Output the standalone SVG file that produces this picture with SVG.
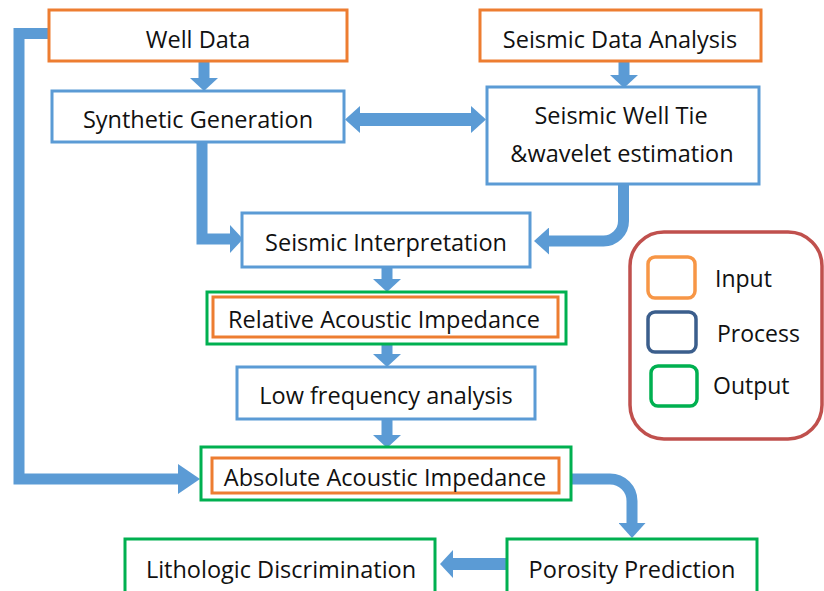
<svg xmlns="http://www.w3.org/2000/svg" width="824" height="591" viewBox="0 0 824 591">
<defs>
<style>
.box{fill:#fff;stroke-width:3}
.blue{stroke:#5B9BD5}
.orange{stroke:#ED7D31}
.green{stroke:#00B050}
.lbl{font-family:"Open Sans","Noto Sans","Liberation Sans",sans-serif;font-size:23.5px;fill:#111;text-anchor:middle}
.leg{font-family:"Open Sans","Noto Sans","Liberation Sans",sans-serif;font-size:23px;fill:#111}
.con{fill:none;stroke:#5B9BD5;stroke-width:11}
</style>
<marker id="a-sm" markerUnits="userSpaceOnUse" viewBox="0 0 13 28" markerWidth="13" markerHeight="28" refX="0" refY="14" orient="auto"><path d="M0,0 L13,14 L0,28 Z" fill="#5B9BD5"/></marker>
<marker id="a-md" markerUnits="userSpaceOnUse" viewBox="0 0 15 27" markerWidth="15" markerHeight="27" refX="0" refY="13.5" orient="auto-start-reverse"><path d="M0,0 L15,13.5 L0,27 Z" fill="#5B9BD5"/></marker>
<marker id="a-lg" markerUnits="userSpaceOnUse" viewBox="0 0 22 30" markerWidth="22" markerHeight="30" refX="0" refY="15" orient="auto"><path d="M0,0 L22,15 L0,30 Z" fill="#5B9BD5"/></marker>
</defs>

<g id="connectors">
<path class="con" d="M204,62 V78" marker-end="url(#a-sm)"/>
<path class="con" d="M624,62 V75" marker-end="url(#a-sm)"/>
<path class="con" style="stroke-width:13" d="M360,119.5 H471" marker-start="url(#a-md)" marker-end="url(#a-md)"/>
<path class="con" d="M202,142 V239 H230" marker-end="url(#a-sm)"/>
<path class="con" d="M623.5,184 V221 A20,20 0 0 1 603.5,241 H549" marker-end="url(#a-md)"/>
<path class="con" d="M387,267 V279" marker-end="url(#a-sm)"/>
<path class="con" d="M387,344 V354" marker-end="url(#a-sm)"/>
<path class="con" d="M387,419 V435" marker-end="url(#a-sm)"/>
<path class="con" d="M49,33.5 H19 V479 H178" marker-end="url(#a-lg)"/>
<path class="con" d="M571,479 H610 A22,22 0 0 1 632,501 V523" marker-end="url(#a-md)"/>
<path class="con" style="stroke-width:12" d="M507,564 H453" marker-end="url(#a-sm)"/>
</g>

<g id="well-data">
<rect class="box orange" x="49" y="10" width="298" height="51"/>
<text class="lbl" x="198" y="48">Well Data</text>
</g>
<g id="seismic-data-analysis">
<rect class="box orange" x="480" y="10" width="281" height="51"/>
<text class="lbl" x="620" y="48">Seismic Data Analysis</text>
</g>
<g id="synthetic-generation">
<rect class="box blue" x="52" y="91" width="292" height="51"/>
<text class="lbl" x="198" y="128">Synthetic Generation</text>
</g>
<g id="seismic-well-tie">
<rect class="box blue" x="487" y="87" width="272" height="97"/>
<text class="lbl" x="621" y="124">Seismic Well Tie</text>
<text class="lbl" x="622" y="162">&amp;wavelet estimation</text>
</g>
<g id="seismic-interpretation">
<rect class="box blue" x="242" y="213" width="288" height="54"/>
<text class="lbl" x="386" y="251">Seismic Interpretation</text>
</g>
<g id="relative-acoustic-impedance">
<rect class="box green" x="207" y="292" width="359" height="52"/>
<rect class="box orange" x="213" y="297" width="345" height="40"/>
<text class="lbl" x="384" y="328">Relative Acoustic Impedance</text>
</g>
<g id="low-frequency-analysis">
<rect class="box blue" x="237" y="367" width="298" height="52"/>
<text class="lbl" x="386" y="404">Low frequency analysis</text>
</g>
<g id="absolute-acoustic-impedance">
<rect class="box green" x="201" y="447" width="370" height="53"/>
<rect class="box orange" x="212" y="458" width="347" height="35"/>
<text class="lbl" x="385" y="486">Absolute Acoustic Impedance</text>
</g>
<g id="lithologic-discrimination">
<rect class="box green" x="125" y="539" width="310" height="70"/>
<text class="lbl" x="281" y="578">Lithologic Discrimination</text>
</g>
<g id="porosity-prediction">
<rect class="box green" x="507" y="539" width="250" height="70"/>
<text class="lbl" x="632" y="578">Porosity Prediction</text>
</g>

<g id="legend">
<rect x="630" y="232" width="192" height="207" rx="34" fill="#fff" stroke="#C0504D" stroke-width="3.5"/>
<rect x="648" y="257" width="47" height="41" rx="7" fill="#fff" stroke="#F79646" stroke-width="3.5"/>
<text class="leg" x="715" y="287">Input</text>
<rect x="648" y="312" width="48" height="40" rx="7" fill="#fff" stroke="#3B5E8C" stroke-width="3.5"/>
<text class="leg" x="717" y="342">Process</text>
<rect x="651" y="366" width="46" height="40" rx="7" fill="#fff" stroke="#00B050" stroke-width="3.5"/>
<text class="leg" x="713" y="394">Output</text>
</g>
</svg>
